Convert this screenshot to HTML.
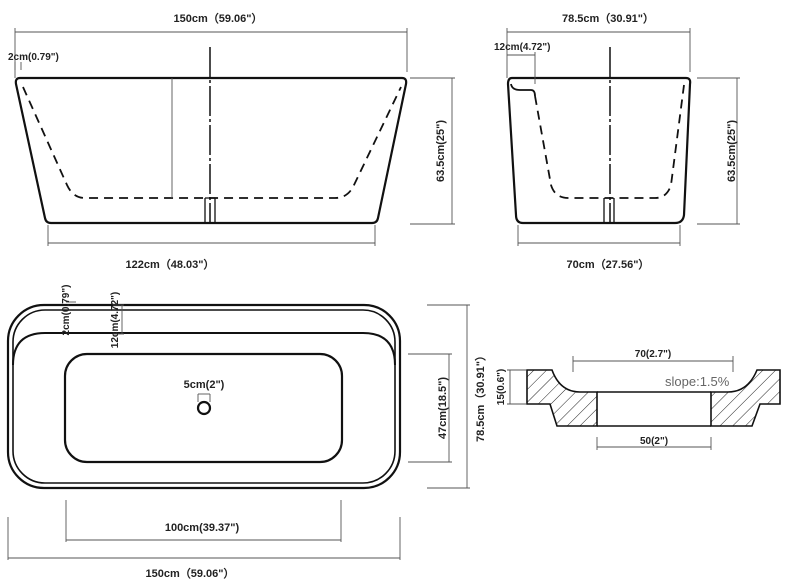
<!DOCTYPE html>
<html><head><meta charset="utf-8"><style>
html,body{margin:0;padding:0;background:#fff}
svg{display:block}
text{font-family:"Liberation Sans",sans-serif;font-weight:bold;fill:#222}
</style></head><body>
<svg width="800" height="580" viewBox="0 0 800 580">
<defs>
<pattern id="h" patternUnits="userSpaceOnUse" width="9" height="9" patternTransform="rotate(45)">
<line x1="0" y1="0" x2="0" y2="9" stroke="#222" stroke-width="1"/>
</pattern>
</defs>
<g fill="none" stroke="#111" stroke-width="2.2">
<path d="M20,78 L402,78 Q407,78 406,84 L378,218 Q377,223 372,223 L51,223 Q46,223 45,218 L16,84 Q15,78 20,78Z"/>
<path d="M23,87 L67,185 Q73,198 85,198 L335,198 Q348,198 354,185 L401,87" stroke-dasharray="9,6" stroke-width="1.8"/>
<path d="M512,78 L686,78 Q691,78 690,84 L684,215 Q683,223 675,223 L523,223 Q516,223 516,215 L508,84 Q508,78 512,78Z"/>
<path d="M511,84 Q512,90 520,90 L531,90 Q535,90 535,96" stroke-width="1.8"/>
<path d="M535,96 L551,185 Q555,198 568,198 L655,198 Q667,198 671,185 L684,85" stroke-dasharray="9,6" stroke-width="1.8"/>
<rect x="8" y="305" width="392" height="183" rx="36"/>
<rect x="13" y="310" width="382" height="173" rx="32" stroke-width="1.6"/>
<path d="M13,365 Q13,333 45,333 L363,333 Q395,333 395,365" stroke-width="2"/>
<rect x="65" y="354" width="277" height="108" rx="22"/>
<circle cx="204" cy="408" r="6"/>
</g>
<g stroke="#111" stroke-width="1.5" stroke-dasharray="30,3,3,3">
<line x1="210" y1="47" x2="210" y2="223"/>
<line x1="610" y1="47" x2="610" y2="223"/>
</g>
<g stroke="#111" stroke-width="1.3" fill="none">
<path d="M205,198 V223 M215,198 V223 M205,198 H215"/>
<path d="M604,198 V223 M614,198 V223"/>
</g>
<g stroke="#555" stroke-width="0.9" fill="none">
<line x1="15" y1="32" x2="407" y2="32"/><line x1="15" y1="28" x2="15" y2="78"/><line x1="407" y1="28" x2="407" y2="72"/>
<line x1="172" y1="78" x2="172" y2="198"/>
<line x1="410" y1="78" x2="455" y2="78"/><line x1="410" y1="224" x2="455" y2="224"/><line x1="452" y1="78" x2="452" y2="224"/>
<line x1="48" y1="243" x2="375" y2="243"/><line x1="48" y1="225" x2="48" y2="246"/><line x1="375" y1="225" x2="375" y2="246"/>
<line x1="15" y1="62" x2="15" y2="70"/><line x1="21" y1="62" x2="21" y2="70"/>
<line x1="507" y1="32" x2="690" y2="32"/><line x1="507" y1="28" x2="507" y2="78"/><line x1="690" y1="28" x2="690" y2="72"/>
<line x1="507" y1="55" x2="535" y2="55"/><line x1="535" y1="52" x2="535" y2="84"/>
<line x1="697" y1="78" x2="740" y2="78"/><line x1="697" y1="224" x2="740" y2="224"/><line x1="737" y1="78" x2="737" y2="224"/>
<line x1="518" y1="243" x2="680" y2="243"/><line x1="518" y1="225" x2="518" y2="246"/><line x1="680" y1="225" x2="680" y2="246"/>
<line x1="408" y1="354" x2="452" y2="354"/><line x1="408" y1="462" x2="452" y2="462"/><line x1="449" y1="354" x2="449" y2="462"/>
<line x1="427" y1="305" x2="470" y2="305"/><line x1="427" y1="488" x2="470" y2="488"/><line x1="467" y1="305" x2="467" y2="488"/>
<line x1="66" y1="500" x2="66" y2="542"/><line x1="341" y1="500" x2="341" y2="542"/><line x1="66" y1="540" x2="341" y2="540"/>
<line x1="8" y1="517" x2="8" y2="560"/><line x1="400" y1="517" x2="400" y2="560"/><line x1="8" y1="558" x2="400" y2="558"/>
<line x1="66" y1="302" x2="76" y2="302"/><line x1="113" y1="305" x2="124" y2="305"/><line x1="122" y1="305" x2="122" y2="334"/><line x1="113" y1="334" x2="124" y2="334"/>
<line x1="198" y1="394" x2="198" y2="402"/><line x1="210" y1="394" x2="210" y2="402"/><line x1="198" y1="394" x2="210" y2="394"/>
<line x1="573" y1="361" x2="733" y2="361"/><line x1="573" y1="356" x2="573" y2="372"/><line x1="733" y1="356" x2="733" y2="372"/>
<line x1="597" y1="447" x2="711" y2="447"/><line x1="597" y1="437" x2="597" y2="450"/><line x1="711" y1="437" x2="711" y2="450"/>
<line x1="510" y1="370" x2="510" y2="404"/><line x1="507" y1="370" x2="526" y2="370"/><line x1="507" y1="404" x2="526" y2="404"/>
</g>
<g stroke="#111" stroke-width="1.6">
<path d="M527,370 L552,370 Q560,392 580,392 L597,392 L597,426 L557,426 L550,404 L527,404Z" fill="url(#h)"/>
<path d="M780,370 L757,370 Q748,392 728,392 L711,392 L711,426 L752,426 L760,404 L780,404Z" fill="url(#h)"/>
<path d="M597,392 H711 M597,426 H711" fill="none"/>
</g>
<g font-size="11">
<text x="218" y="22" text-anchor="middle">150cm（59.06"）</text>
<text x="8" y="60" font-size="10">2cm(0.79")</text>
<text x="170" y="268" text-anchor="middle">122cm（48.03"）</text>
<text x="608" y="22" text-anchor="middle">78.5cm（30.91"）</text>
<text x="494" y="50" font-size="10">12cm(4.72")</text>
<text x="608" y="268" text-anchor="middle">70cm（27.56"）</text>
<text transform="translate(444,151) rotate(-90)" text-anchor="middle">63.5cm(25")</text>
<text transform="translate(735,151) rotate(-90)" text-anchor="middle">63.5cm(25")</text>
<text transform="translate(446,408) rotate(-90)" text-anchor="middle">47cm(18.5")</text>
<text transform="translate(484,396) rotate(-90)" text-anchor="middle">78.5cm（30.91"）</text>
<text transform="translate(69,310) rotate(-90)" text-anchor="middle" font-size="10">2cm(0.79")</text>
<text transform="translate(118,320) rotate(-90)" text-anchor="middle" font-size="10">12cm(4.72")</text>
<text x="204" y="388" text-anchor="middle">5cm(2")</text>
<text x="202" y="531" text-anchor="middle">100cm(39.37")</text>
<text x="190" y="577" text-anchor="middle">150cm（59.06"）</text>
<text x="653" y="357" text-anchor="middle" font-size="10">70(2.7")</text>
<text x="654" y="444" text-anchor="middle" font-size="10">50(2")</text>
<text transform="translate(504,387) rotate(-90)" text-anchor="middle" font-size="10">15(0.6")</text>
<text x="665" y="386" font-size="13" style="font-weight:normal;fill:#666">slope:1.5%</text>
</g>
</svg>
</body></html>
